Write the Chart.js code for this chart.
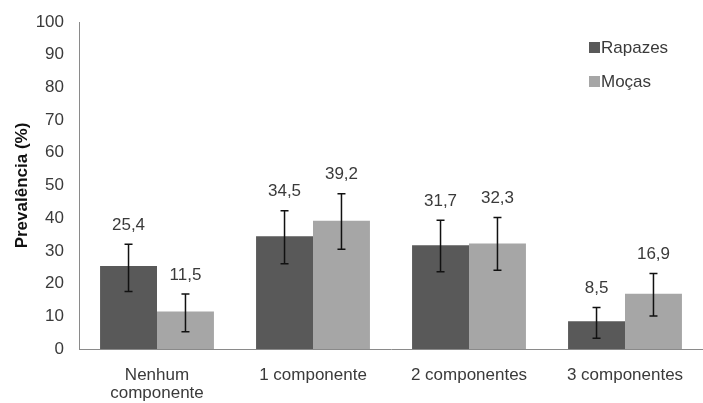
<!DOCTYPE html>
<html>
<head>
<meta charset="utf-8">
<script src="https://cdn.jsdelivr.net/npm/chart.js@4/dist/chart.umd.min.js"></script>
<style>
  html, body { margin: 0; padding: 0; background: #fff; }
  #wrap { width: 703px; height: 403px; }
</style>
</head>
<body>
<div id="wrap"><canvas id="myChart" width="703" height="403"></canvas></div>
<script>
var categories = [["Nenhum", "componente"], "1 componente", "2 componentes", "3 componentes"];
var rapazes = [25.4, 34.5, 31.7, 8.5];
var mocas = [11.5, 39.2, 32.3, 16.9];
// intervalos (limite inferior / superior)
var rapazesLow = [17.6, 26.1, 23.6, 3.3];
var rapazesHigh = [32.0, 42.3, 39.4, 12.7];
var mocasLow = [5.3, 30.5, 24.1, 10.1];
var mocasHigh = [16.8, 47.5, 40.2, 23.1];
var yTicks = [0, 10, 20, 30, 40, 50, 60, 70, 80, 90, 100];

var fontName = "'Liberation Sans', Arial, sans-serif";
var textColor = '#3a3a3a';

// barras de erro + valores por cima
var errorBars = {
    id: 'errorBars',
    afterDatasetsDraw: function(chart) {
        var ctx = chart.ctx;
        var y = chart.scales.y;
        var ranges = [[rapazesLow, rapazesHigh], [mocasLow, mocasHigh]];
        chart.data.datasets.forEach(function(ds, i) {
            var meta = chart.getDatasetMeta(i);
            meta.data.forEach(function(bar, j) {
                var top = y.getPixelForValue(ranges[i][1][j]);
                var bottom = y.getPixelForValue(ranges[i][0][j]);
                ctx.save();
                ctx.strokeStyle = '#111';
                ctx.lineWidth = 1.5;
                ctx.beginPath();
                ctx.moveTo(bar.x, top);
                ctx.lineTo(bar.x, bottom);
                ctx.moveTo(bar.x - 4, top);
                ctx.lineTo(bar.x + 4, top);
                ctx.moveTo(bar.x - 4, bottom);
                ctx.lineTo(bar.x + 4, bottom);
                ctx.stroke();
                ctx.fillStyle = textColor;
                ctx.font = '17px ' + fontName;
                ctx.textAlign = 'center';
                ctx.textBaseline = 'middle';
                ctx.fillText(ds.data[j].toFixed(1).replace('.', ','), bar.x, top - 19);
                ctx.restore();
            });
        });
    }
};

// legenda no canto superior direito
var sideLegend = {
    id: 'sideLegend',
    afterDraw: function(chart) {
        var ctx = chart.ctx;
        chart.data.datasets.forEach(function(ds, i) {
            var cy = 48 + i * 34;
            ctx.save();
            ctx.fillStyle = ds.backgroundColor;
            ctx.fillRect(589, cy - 6, 11, 11);
            ctx.fillStyle = textColor;
            ctx.font = '17px ' + fontName;
            ctx.textBaseline = 'middle';
            ctx.fillText(ds.label, 601, cy);
            ctx.restore();
        });
    }
};

var ctx = document.getElementById('myChart').getContext('2d');
var myChart = new Chart(ctx, {
    type: 'bar',
    data: {
        labels: categories,
        datasets: [{
            label: 'Rapazes',
            data: rapazes,
            backgroundColor: '#595959'
        }, {
            label: 'Moças',
            data: mocas,
            backgroundColor: '#a6a6a6'
        }]
    },
    options: {
        responsive: false,
        animation: false,
        layout: { padding: { top: 0, right: 0, left: 12, bottom: 0 } },
        plugins: {
            legend: { display: false },
            tooltip: { enabled: false }
        },
        datasets: {
            bar: { categoryPercentage: 0.73, barPercentage: 1.0 }
        },
        scales: {
            x: {
                afterFit: function(scale) { scale.height = 54; },
                grid: { display: false, drawTicks: false },
                border: { color: '#8a8a8a', width: 1 },
                ticks: {
                    color: textColor,
                    font: { family: fontName, size: 17, lineHeight: 1.06 },
                    padding: 17,
                    maxRotation: 0
                }
            },
            y: {
                min: 0,
                max: 100,
                afterBuildTicks: function(scale) {
                    scale.ticks = yTicks.map(function(v) { return { value: v }; });
                },
                afterFit: function(scale) {
                    scale.width = 67;
                    scale.paddingTop = 22;
                },
                grid: { display: false, drawTicks: false },
                border: { color: '#8a8a8a', width: 1 },
                ticks: {
                    color: textColor,
                    font: { family: fontName, size: 17 },
                    padding: 15
                },
                title: {
                    display: true,
                    text: 'Prevalência (%)',
                    color: '#111',
                    font: { family: fontName, size: 17, weight: 'bold' },
                    padding: 0
                }
            }
        }
    },
    plugins: [errorBars, sideLegend]
});
</script>
</body>
</html>
